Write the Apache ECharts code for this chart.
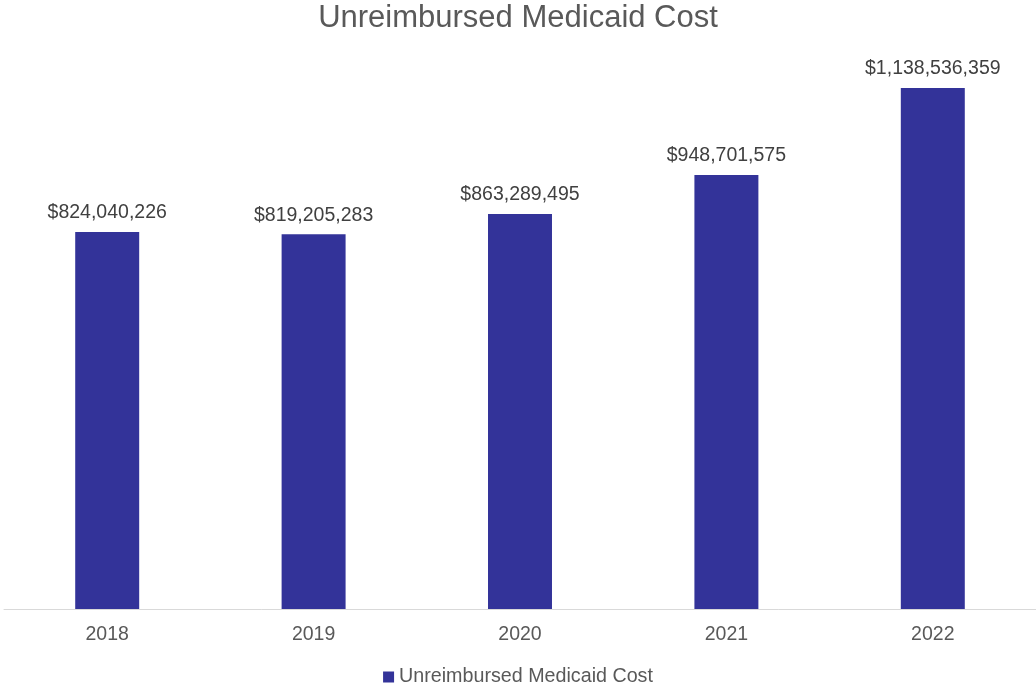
<!DOCTYPE html>
<html>
<head>
<meta charset="utf-8">
<style>
    html, body { margin: 0; padding: 0; background: #fff; }
    #chart { width: 1036px; height: 686px; }
</style>
<script src="https://cdn.jsdelivr.net/npm/echarts@6/dist/echarts.min.js"></script>
</head>
<body>
<div id="chart"></div>
<script>
    var years = ['2018', '2019', '2020', '2021', '2022'];
    var costValues = [824040226, 819205283, 863289495, 948701575, 1138536359];
    var seriesName = 'Unreimbursed Medicaid Cost';

    function money(v) {
        return '$' + String(v).replace(/\B(?=(\d{3})+(?!\d))/g, ',');
    }

    var myChart = echarts.init(document.getElementById('chart'));
    var option = {
        textStyle: { fontFamily: 'Liberation Sans, Arial, sans-serif' },
        title: {
            text: seriesName,
            left: 'center',
            top: -2,
            textStyle: { fontSize: 31, fontWeight: 'normal', color: '#595959' }
        },
        legend: {
            bottom: -6,
            left: 'center',
            icon: 'rect',
            itemWidth: 11,
            itemHeight: 11,
            itemGap: 5,
            textStyle: { fontSize: 19.7, color: '#595959' },
            data: [seriesName]
        },
        grid: {
            top: 60,
            left: 4,
            right: 0,
            bottom: 77
        },
        xAxis: {
            type: 'category',
            data: years,
            axisLine: { lineStyle: { color: '#d9d9d9', width: 1 } },
            axisTick: { show: false },
            axisLabel: { fontSize: 19.5, color: '#595959', margin: 16 }
        },
        yAxis: {
            type: 'value',
            min: 0,
            max: 1200000000,
            show: false,
            splitLine: { show: false }
        },
        series: [{
            name: seriesName,
            type: 'bar',
            data: costValues,
            barWidth: '31%',
            itemStyle: { color: '#333399' },
            label: {
                show: true,
                position: 'top',
                distance: 9,
                fontSize: 19.5,
                color: '#404040',
                formatter: function (p) { return money(p.value); }
            }
        }]
    };
    myChart.setOption(option);
</script>
</body>
</html>
